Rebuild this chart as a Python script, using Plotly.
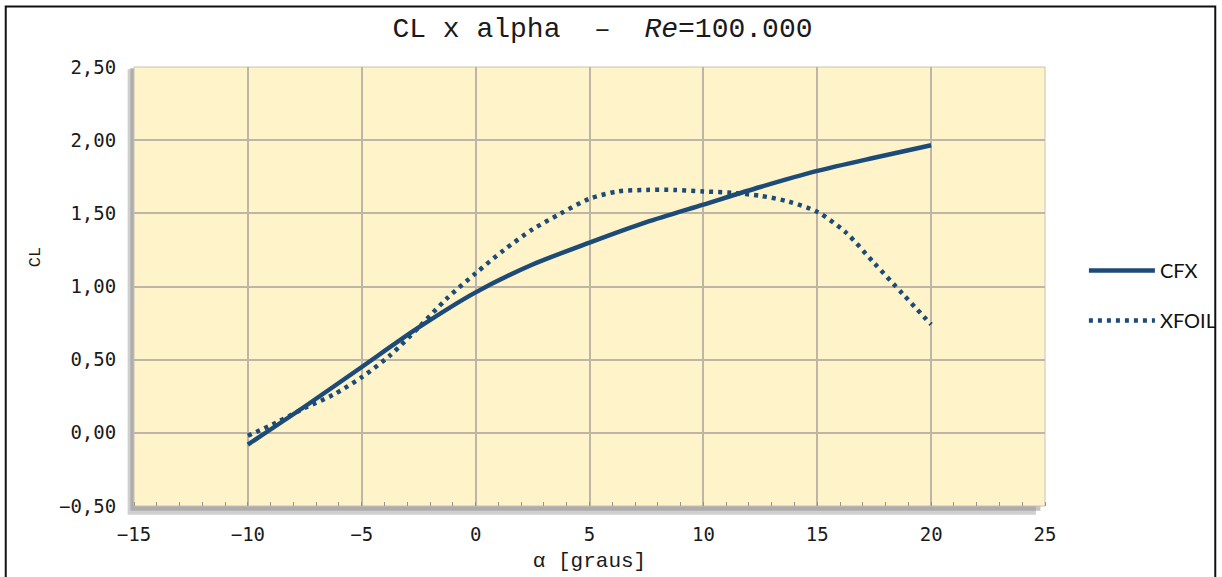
import plotly.graph_objects as go

# Angle of attack (degrees) and lift coefficient for each method
alpha_cfx = [-10, -7.5, -5, -2.5, 0, 2.5, 5, 7.5, 10, 12.5, 15, 17.5, 20]
cl_cfx = [-0.08, 0.18, 0.45, 0.72, 0.96, 1.15, 1.30, 1.44, 1.56, 1.68, 1.79, 1.88, 1.965]

alpha_xfoil = [-10, -8.75, -7.5, -6.25, -5, -3.75, -2.5, -1.25, 0, 1.25, 2.5, 3.75,
               5, 6.25, 7.5, 8.75, 10, 11.25, 12.5, 13.75, 15, 16.25, 17.5, 18.75, 20]
cl_xfoil = [-0.02, 0.07, 0.17, 0.26, 0.38, 0.53, 0.72, 0.92, 1.09, 1.25, 1.39, 1.50,
            1.60, 1.65, 1.66, 1.66, 1.65, 1.64, 1.62, 1.58, 1.51, 1.37, 1.16, 0.95, 0.74]

x_ticks = [-15, -10, -5, 0, 5, 10, 15, 20, 25]
y_ticks = [-0.5, 0, 0.5, 1.0, 1.5, 2.0, 2.5]

LINE = "#1d4b78"
GRID = "#bdb6a6"
TEXT = "#1a1a1a"
MONO = "Liberation Mono, Courier New, monospace"
SANS_MONO = "DejaVu Sans Mono, monospace"

fig = go.Figure()
fig.add_trace(go.Scatter(
    x=alpha_cfx, y=cl_cfx, name="CFX", mode="lines",
    line=dict(color=LINE, width=4.5, shape="spline", smoothing=0.8),
    legendgroup="a",
))
fig.add_trace(go.Scatter(
    x=alpha_xfoil, y=cl_xfoil, name="XFOIL", mode="lines",
    line=dict(color=LINE, width=4.5, dash="4px,5px", shape="spline", smoothing=0.8),
    legendgroup="b",
))

fig.update_layout(
    width=1222, height=577,
    margin=dict(l=134, r=177, t=67, b=71, autoexpand=False),
    paper_bgcolor="white",
    plot_bgcolor="rgba(0,0,0,0)",
    separators=", ",
    title=dict(
        text="CL x alpha  –  <i>Re</i>=100.000",
        x=0.493, xanchor="center", y=0.953, yanchor="middle",
        font=dict(family=MONO, size=28, color=TEXT),
    ),
    xaxis=dict(
        range=[-15, 25], tickvals=x_ticks, showgrid=True, automargin=False,
        gridcolor=GRID, gridwidth=2, zeroline=False,
        ticks="outside", ticklen=11, tickcolor="rgba(0,0,0,0)",
        minor=dict(dtick=1, ticks="inside", ticklen=4, tickcolor="#9a9488", showgrid=False),
        tickfont=dict(family=SANS_MONO, size=19, color=TEXT),
        title=dict(text="α [graus]", font=dict(family=MONO, size=21, color=TEXT),
                   standoff=8),
        showline=False,
    ),
    yaxis=dict(
        range=[-0.5, 2.5], tickvals=y_ticks, tickformat=".2f", showgrid=True,
        automargin=False,
        gridcolor=GRID, gridwidth=2, zeroline=False,
        tickfont=dict(family=SANS_MONO, size=19, color=TEXT),
        ticks="outside", ticklen=13, tickcolor="rgba(0,0,0,0)",
        showline=False,
    ),
    annotations=[
        dict(text="CL", xref="paper", yref="paper", x=-0.108, y=0.566,
             textangle=-90, showarrow=False, xanchor="center", yanchor="middle",
             font=dict(family=MONO, size=17, color=TEXT)),
    ],
    legend=dict(
        xref="container", yref="container",
        x=0.887, xanchor="left", y=0.4879, yanchor="middle",
        font=dict(family="Lato, Open Sans, sans-serif", size=20, color="#111111"),
        itemwidth=66, tracegroupgap=21, traceorder="grouped",
        bgcolor="rgba(0,0,0,0)",
    ),
    showlegend=True,
    shapes=[
        # drop shadow of the plotting area
        dict(type="rect", xref="paper", yref="paper", layer="below",
             x0=-0.007, x1=0.99, y0=-0.02, y1=0.995,
             fillcolor="#a8a8a8", line=dict(width=0), opacity=0.55),
        dict(type="rect", xref="paper", yref="paper", layer="below",
             x0=-0.004, x1=0.995, y0=-0.011, y1=0.998,
             fillcolor="#8c8c8c", line=dict(width=0), opacity=0.5),
        # plotting area background
        dict(type="rect", xref="paper", yref="paper", layer="below",
             x0=0, x1=1, y0=0, y1=1,
             fillcolor="#fef3c9", line=dict(color="#c8c2b4", width=1)),
        # frame around the whole figure
        dict(type="rect", xref="paper", yref="paper", layer="below",
             x0=-0.1408, x1=1.1869, y0=-0.18, y1=1.1378,
             fillcolor="rgba(0,0,0,0)", line=dict(color="#111111", width=2)),
    ],
)

fig.write_html("out.html")
